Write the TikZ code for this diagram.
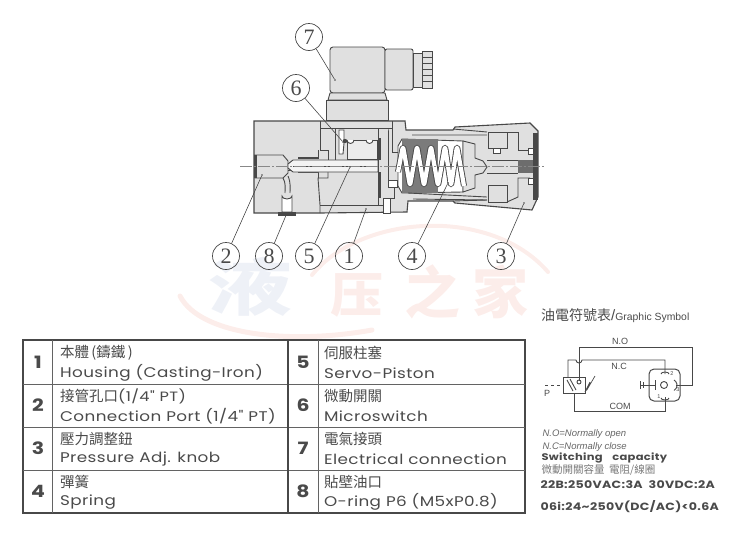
\documentclass[tikz,border=0pt]{standalone}
\usepackage{fontspec}
\setmainfont{Poppins}
\newfontfamily\enf[FakeStretch=1.2,LetterSpace=3]{Poppins}
\newfontfamily\cjk{Noto Sans CJK TC}
\newfontfamily\cjksc{Noto Sans CJK SC}
\newfontfamily\lib{Liberation Sans}
\newfontfamily\numf{Liberation Serif}
\definecolor{bodygray}{HTML}{E0E0E0}
\definecolor{linegray}{HTML}{484848}
\definecolor{textgray}{HTML}{4A4A4A}
\definecolor{wmred}{HTML}{FCEDEA}
\definecolor{wmblue}{HTML}{EEF1F7}
\tikzset{
  part/.style={draw=linegray,line width=0.9pt,fill=bodygray},
  hole/.style={draw=linegray,line width=0.9pt,fill=white},
  edge/.style={draw=linegray,line width=0.9pt},
  balloon/.style={circle,draw=linegray,line width=0.7pt,minimum size=27pt,inner sep=0pt,font=\numf\fontsize{22}{22}\selectfont,text=textgray},
  leader/.style={draw=linegray,line width=0.6pt},
  tip/.style={fill=linegray,circle,inner sep=0.7pt},
  numcell/.style={font=\enf\fontsize{17}{17}\selectfont\bfseries,text=textgray},
  zhcell/.style={anchor=west,font=\cjk\fontsize{14.5}{15}\selectfont,text=textgray},
  encell/.style={anchor=west,font=\enf\fontsize{14}{15}\selectfont,text=textgray},
  wire/.style={draw=linegray,line width=0.9pt},
  symtext/.style={font=\lib\fontsize{9}{9}\selectfont,text=textgray},
  pintext/.style={font=\lib\fontsize{5.5}{6}\selectfont,text=textgray},
  notetext/.style={anchor=west,font=\lib\itshape\fontsize{9.5}{10}\selectfont,text=textgray!85},
  ratetext/.style={anchor=west,font=\enf\fontsize{10.5}{11}\selectfont\bfseries,text=textgray},
  coil/.style={draw=linegray,line width=6pt,line join=round,rounded corners=3pt},
  coilin/.style={draw=white,line width=4.2pt,line join=round,rounded corners=3pt}
}
\begin{document}
\begin{tikzpicture}[x=1pt,y=-1pt]
  \useasboundingbox (0,0) rectangle (750,544);

  % Watermark
  \node (wmye) at (250,287) {\cjksc\bfseries\fontsize{62}{62}\selectfont\scalebox{1.35}[1]{\textcolor{wmblue}{液}}};
  \node (wmya) at (357,295) {\cjksc\bfseries\fontsize{48}{48}\selectfont\scalebox{1.1}[1]{\textcolor{wmred}{压}}};
  \node (wmzhi) at (432,292) {\cjksc\bfseries\fontsize{56}{56}\selectfont\textcolor{wmred}{之}};
  \node (wmjia) at (500,292) {\cjksc\bfseries\fontsize{56}{56}\selectfont\textcolor{wmred}{家}};
  \draw[wmred,line width=5pt,line cap=round] (180,296) .. controls (200,335) and (290,345) .. (372,330);
  \draw[wmred,line width=4pt,line cap=round] (312,275) .. controls (360,215) and (490,205) .. (548,272);

  % Coil
  \draw[part,rounded corners=3pt] (330,47) rectangle (385,93);
  \draw[part,rounded corners=2pt] (385,49) rectangle (413,90);
  \draw[part] (413,53) rectangle (422,87);
  \draw[part] (422,51) rectangle (432,88);
  \foreach \yy in {57,63,69,75,81} \draw[linegray,line width=0.5pt] (422,\yy) -- (432,\yy);
  \draw[part] (330,93) -- (385,93) -- (387,100) -- (328,100) -- cycle;
  \draw[part] (326,100) rectangle (388,120);

  % Housing
  \draw[part,line width=1.1pt] (254,121) -- (405,121) -- (406,130) -- (453,130) -- (455,127) -- (530,123)
    -- (538,131) -- (538,197) -- (532,210) -- (455,203) -- (453,201) -- (408,201) -- (407,212) -- (320,213) -- (254,213) -- cycle;

  % Port and drain
  \draw[part] (254,155) -- (283,155) -- (288,161) -- (288,173) -- (283,178) -- (254,178);
  \fill[linegray] (254,155) rectangle (256.5,178);
  \draw[edge] (288,164) -- (293,164) (288,170) -- (293,170);
  \draw[edge] (283,178) .. controls (286,183) and (285,188) .. (285,193) (288,176) .. controls (291,183) and (290,188) .. (290,193);
  \draw[part,fill=white] (282,212) -- (282,196) arc (180:360:5 and -3) -- (292,212) -- cycle;
  \draw[part,fill=linegray] (278,212) rectangle (295,215.5);

  % Chamber walls
  \draw[edge] (320,121) -- (320,150) -- (328,150) -- (328,160);
  \draw[edge] (328,171) -- (328,178) -- (318,178) -- (320,205) -- (320,213);
  \draw[edge] (318,150) -- (318,158) -- (298,158);
  \draw[edge,line width=1.6pt] (298,158) -- (318,158);
  \draw[edge] (318,171) -- (318,178);
  \draw[edge,line width=1.6pt] (298,172.5) -- (318,172.5);
  \draw[edge] (320,128) -- (378,128);
  \draw[edge] (320,205) -- (383,205);

  % Microswitch
  \draw[edge] (335,128) -- (335,160);
  \draw[part,fill=white] (339,130) -- (344,130) -- (344,143) -- (343,154) -- (339,154) -- cycle;
  \draw[part,fill=bodygray!60] (347,140) rectangle (377,159);
  \draw[edge,fill=white] (347,140) arc (180:0:3.5) (366,140) arc (180:0:3.5);
  \fill[linegray] (345,141) circle (2.2);
  \draw[edge] (335,160) -- (378,160);

  % Piston
  \draw[part,fill=bodygray!40] (293,160) -- (378,160) -- (378,172) -- (293,172) -- (288,168) -- (288,164) -- cycle;
  \draw[edge] (293,166) -- (378,166);
  \draw[part] (378,128) rectangle (388,205);
  \fill[linegray] (378,138) rectangle (380.5,160);
  \fill[linegray] (378,172) rectangle (380.5,198);
  \draw[part] (388,128) -- (392,128) -- (392,152) -- (399,152) -- (399,160);
  \draw[part,fill=white] (388,180) rectangle (397,187);
  \draw[part] (388,187) -- (394,187) -- (394,198) -- (388,198);
  \draw[part,fill=white] (383,198) rectangle (390,213);
  \draw[edge] (392,128) -- (392,121);

  % Spring bore
  \draw[hole] (402,139) -- (463,141) -- (463,192) -- (402,193) -- (398,186) -- (398,146) -- cycle;
  \fill[linegray!72] (402,139) rectangle (438,193);
  \draw[edge] (412,135) -- (487,135) (408,193) -- (487,197) (413,199) -- (487,200);
  \draw[edge] (453,129) -- (487,132);
  \draw[edge] (453,201) -- (487,200);

  % Adjuster
  \draw[part] (463,141) -- (475,144) -- (475,158) -- (483,161) -- (487,167) -- (483,173) -- (475,175) -- (475,188) -- (463,192) -- cycle;
  \draw[edge] (487,160) -- (518,160) (487,173) -- (518,173);
  \draw[part] (488,132) rectangle (507,148);
  \draw[part] (488,185) rectangle (507,202);
  \draw[part,fill=white] (493,148) rectangle (500,153);
  \draw[edge] (507,132) -- (518,132) -- (518,150) -- (530,150);
  \draw[edge] (507,202) -- (518,197) -- (518,178) -- (530,178);
  \fill[linegray!80] (518,160) rectangle (533,173);
  \draw[edge,fill=white] (528,148) rectangle (533,154);
  \draw[edge,fill=white] (528,178) rectangle (533,184);
  \fill[linegray] (533,133) rectangle (537.5,200);

  % Spring
  \draw[coil] (398,172) -- (403,146) -- (410,186) -- (417,146) -- (424,186) -- (431,146) -- (438,186) -- (445,146) -- (451,186) -- (457,146) -- (464,186);
  \draw[coilin] (398,172) -- (403,146) -- (410,186) -- (417,146) -- (424,186) -- (431,146) -- (438,186) -- (445,146) -- (451,186) -- (457,146) -- (464,186);

  % Centre line
  \draw[linegray!65,line width=0.5pt,dash pattern=on 12pt off 2pt on 2pt off 2pt] (240,166) -- (545,166);

  % Balloons
  \node[balloon] (bseven) at (309,37) {7};
  \node[balloon] (bsix) at (296,88) {6};
  \node[balloon] (btwo) at (226,256) {2};
  \node[balloon] (beight) at (269,256) {8};
  \node[balloon] (bfive) at (309,256) {5};
  \node[balloon] (bone) at (349,256) {1};
  \node[balloon] (bfour) at (412,256) {4};
  \node[balloon] (bthree) at (501,256) {3};
  \node[tip] (tseven) at (335,80) {};
  \node[tip] (tsix) at (343,142) {};
  \node[tip] (ttwo) at (262,175) {};
  \node[tip] (teight) at (287,213) {};
  \node[tip] (tfive) at (350,167) {};
  \node[tip] (tone) at (366,209) {};
  \node[tip] (tfour) at (448,183) {};
  \node[tip] (tthree) at (524,203) {};
  \draw[leader] (bseven) -- (tseven);
  \draw[leader] (bsix) -- (tsix);
  \draw[leader] (btwo) -- (ttwo);
  \draw[leader] (beight) -- (teight);
  \draw[leader] (bfive) -- (tfive);
  \draw[leader] (bone) -- (tone);
  \draw[leader] (bfour) -- (tfour);
  \draw[leader] (bthree) -- (tthree);

  % Table
  \draw[linegray,line width=1.3pt] (23,340) rectangle (525,513);
  \foreach \yy in {384,427,470} \draw[linegray!85,line width=0.9pt] (23,\yy) -- (525,\yy);
  \draw[linegray!85,line width=0.9pt] (52,340) -- (52,513);
  \draw[linegray,line width=1.4pt] (288,340) -- (288,513);
  \draw[linegray!85,line width=0.9pt] (318,340) -- (318,513);
  \foreach \nn/\cy/\zh/\en in {1/362/{本體\,(鑄鐵\,)}/{Housing (Casting-Iron)},
      2/405/{接管孔口{\enf\fontsize{13.5}{15}\selectfont(1/4" PT)}}/{Connection Port (1/4" PT)},
      3/448/{壓力調整鈕}/{Pressure Adj. knob},
      4/491/{彈簧}/{Spring}}{
    \node[numcell] (num\nn) at (38,\cy) {\nn};
    \node[zhcell] (zh\nn) at (56.5,\cy-9) {\zh};
    \node[encell] (en\nn) at (56.5,\cy+11) {\en};
  }
  \foreach \nn/\cy/\zh/\en in {5/362/{伺服柱塞}/{Servo-Piston},
      6/405/{微動開關}/{Microswitch},
      7/448/{電氣接頭}/{Electrical connection},
      8/491/{貼壁油口}/{O-ring P6 (M5xP0.8)}}{
    \node[numcell] (num\nn) at (303,\cy) {\nn};
    \node[zhcell] (zh\nn) at (320.5,\cy-9) {\zh};
    \node[encell] (en\nn) at (320.5,\cy+11) {\en};
  }

  % Graphic symbol
  \node[anchor=west,inner sep=0pt,text=textgray] (symtitle) at (541,316) {\cjk\fontsize{14}{14}\selectfont 油電符號表{\lib\fontsize{15}{15}\selectfont/}\lib\fontsize{10.4}{11}\selectfont Graphic Symbol};
  \node[draw=linegray,line width=1pt,fill=white,minimum width=22pt,minimum height=16pt,inner sep=0pt] (swbox) at (574,385) {};
  \node[draw=linegray,line width=1pt,rounded corners=5pt,minimum width=31pt,minimum height=32pt,inner sep=0pt] (plug) at (664.5,385) {};
  \node[circle,draw=linegray,line width=0.9pt,minimum size=7pt,inner sep=0pt] (pin) at (664,385) {};
  \coordinate (pend) at (545,385);
  \coordinate (pinno) at (676,385);
  \coordinate (pinnc) at (665,374);
  \coordinate (pincom) at (665,397);
  \draw[wire,dashed] (pend) -- (swbox.west);
  \draw[wire] (579,381) -- (579,347) -- (692,347) -- (692,385) -- (pinno);
  \draw[wire] (568,377) -- (568,360) -- (576,360) arc (180:0:3) -- (665,360) -- (pinnc);
  \draw[wire] (574,393) -- (574,411) -- (665,411) -- (pincom);
  \draw[wire] (567,380) -- (573,391);
  \draw[wire] (570,379) -- (576,390);
  \draw[wire] (579,382) circle (2);
  \draw[wire] (661,374) arc (180:360:4 and 2);
  \draw[wire] (661,398) arc (180:360:4 and -2);
  \draw[wire] (674,380) arc (-60:60:6);
  \draw[wire] (655,380) -- (655,390) (655,385) -- (640,385) (640,381) -- (640,389) (643,382) -- (643,388);
  \draw[wire,line width=0.7pt] (585,392) -- (590,382) -- (588,388) -- (595,376);
  \node[symtext] (nolabel) at (620,341) {N.O};
  \node[symtext] (nclabel) at (619,366) {N.C};
  \node[symtext] (comlabel) at (620,406) {COM};
  \node[symtext] (plabel) at (547,393) {P};
  \node[pintext] (ptwo) at (672,374) {2};
  \node[pintext] (pthree) at (678,390) {3};
  \node[pintext] (pone) at (659,397) {1};

  % Notes
  \node[notetext] (noteno) at (539,434) {N.O=Normally open};
  \node[notetext] (notenc) at (539,447) {N.C=Normally close};
  \node[ratetext,font=\enf\fontsize{9.6}{10}\selectfont\bfseries] (swcap) at (538,458) {Switching\quad capacity};
  \node[anchor=west,font=\cjk\fontsize{10.5}{11}\selectfont,text=textgray!75] (swzh) at (538,470) {微動開關容量\ \ 電阻/線圈};
  \node[ratetext] (ratea) at (537,485) {22B:250VAC:3A\ \ 30VDC:2A};
  \node[ratetext] (rateb) at (537,507) {06i:24\textasciitilde250V(DC/AC)<0.6A};
\end{tikzpicture}
\end{document}
